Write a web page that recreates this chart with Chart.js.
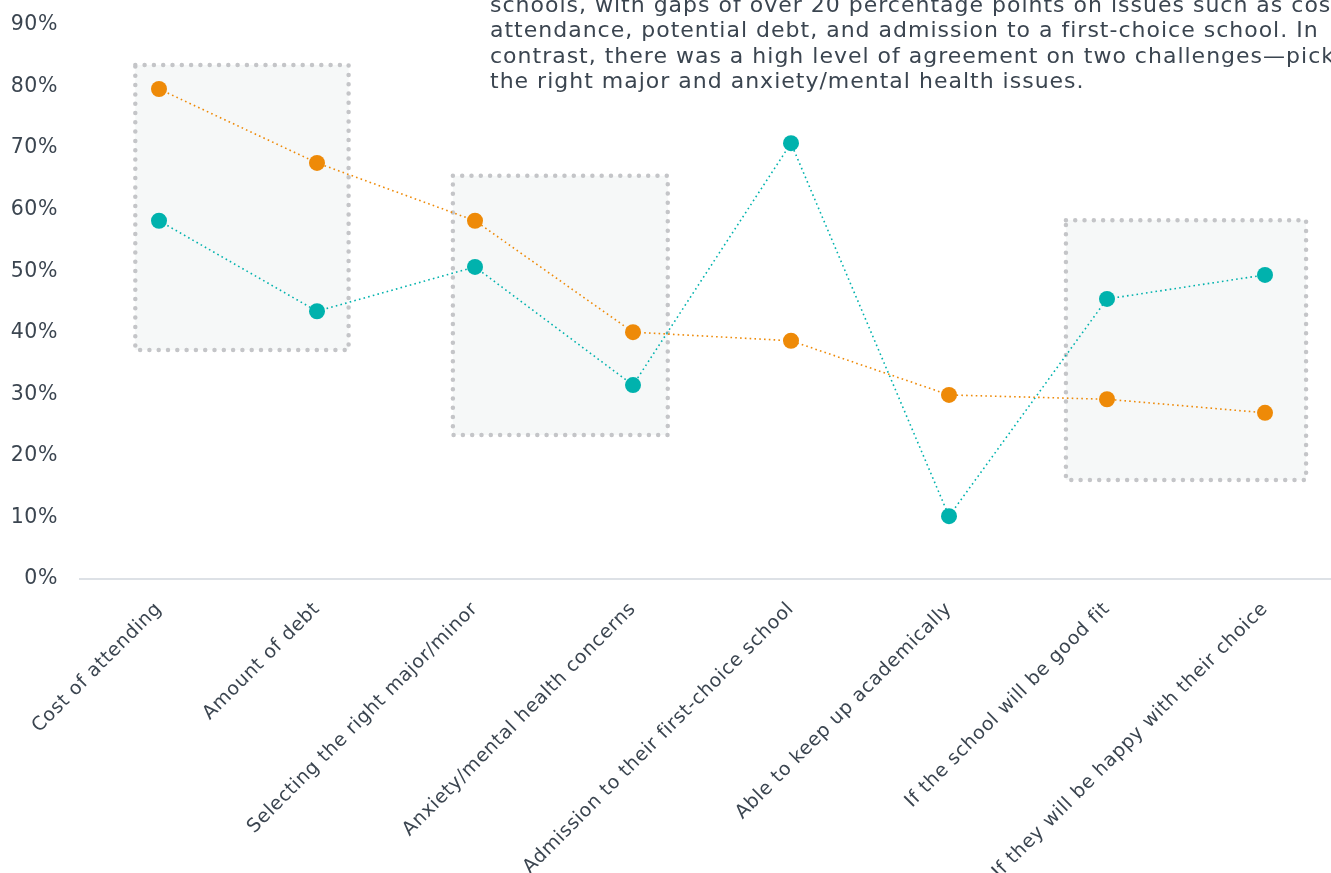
<!DOCTYPE html>
<html>
<head>
<meta charset="utf-8">
<script src="https://cdn.jsdelivr.net/npm/chart.js@4.4.1/dist/chart.umd.min.js"></script>
<style>
  html, body { margin: 0; padding: 0; background: #fff; overflow: hidden; }
  .wrap { position: relative; width: 1352px; height: 873px; }
</style>
</head>
<body>
<div class="wrap"><canvas id="myChart"></canvas></div>
<script>
// DADOS DO GRAFICO
const categories = [
  "Cost of attending",
  "Amount of debt",
  "Selecting the right major/minor",
  "Anxiety/mental health concerns",
  "Admission to their first-choice school",
  "Able to keep up academically",
  "If the school will be good fit",
  "If they will be happy with their choice",
];
const orangeValues = [79.6, 67.6, 58.2, 40.1, 38.7, 29.9, 29.2, 27.0];
const tealValues = [58.2, 43.5, 50.7, 31.5, 70.8, 10.2, 45.5, 49.4];
const yTicks = [0, 10, 20, 30, 40, 50, 60, 70, 80, 90];

// caixas de destaque (em unidades de categoria / percentagem)
const highlightBoxes = [
  { from: -0.15, to: 1.2, low: 37.2, high: 83.5 },
  { from: 1.86, to: 3.22, low: 23.4, high: 65.5 },
  { from: 5.74, to: 7.26, low: 16.1, high: 58.3 },
];

const noteLines = [
  "schools, with gaps of over 20 percentage points on issues such as cost of",
  "attendance, potential debt, and admission to a first-choice school. In",
  "contrast, there was a high level of agreement on two challenges\u2014picking",
  "the right major and anxiety/mental health issues.",
];

const FONT = "'DejaVu Sans', Verdana, sans-serif";
const TEXT_COLOR = "#3b4550";

// espaçamento entre letras (imitar Verdana)
const spacingPlugin = {
  id: "spacing",
  beforeLayout(chart) {
    chart.ctx.letterSpacing = "0.6px";
  },
  beforeDraw(chart) {
    chart.ctx.letterSpacing = "0.6px";
  },
};

// PLUGIN PARA AS CAIXAS PONTILHADAS
const boxPlugin = {
  id: "boxes",
  beforeDatasetsDraw(chart) {
    const { ctx, scales } = chart;
    const x = scales.x;
    const y = scales.y;
    const step = x.getPixelForValue(1) - x.getPixelForValue(0);
    highlightBoxes.forEach((b) => {
      const left = x.getPixelForValue(0) + b.from * step;
      const right = x.getPixelForValue(0) + b.to * step;
      const top = y.getPixelForValue(b.high);
      const bottom = y.getPixelForValue(b.low);
      ctx.save();
      ctx.fillStyle = "#f6f8f8";
      ctx.fillRect(left, top, right - left, bottom - top);
      ctx.strokeStyle = "#c4c5c8";
      ctx.lineWidth = 4.5;
      ctx.lineCap = "round";
      ctx.setLineDash([0, 9.3]);
      ctx.strokeRect(left, top, right - left, bottom - top);
      ctx.restore();
    });
  },
};

// PLUGIN PARA O TEXTO DE NOTA
const notePlugin = {
  id: "note",
  afterDraw(chart) {
    const ctx = chart.ctx;
    ctx.save();
    ctx.font = "22px " + FONT;
    ctx.letterSpacing = "1px";
    ctx.fillStyle = TEXT_COLOR;
    ctx.textBaseline = "alphabetic";
    noteLines.forEach((line, i) => {
      ctx.fillText(line, 490, 11.5 + i * 25.5);
    });
    ctx.restore();
  },
};

const ctx = document.getElementById("myChart");
const makeSet = (values, color) => ({
  data: values,
  borderColor: color,
  backgroundColor: color,
  pointBackgroundColor: color,
  pointBorderWidth: 0,
  pointRadius: 8,
  borderWidth: 1.6,
  borderDash: [1.6, 3.2],
  tension: 0,
});

new Chart(ctx, {
  type: "line",
  data: {
    labels: categories,
    datasets: [
      makeSet(orangeValues, "#ee8a08"),
      makeSet(tealValues, "#00b2ad"),
    ],
  },
  options: {
    responsive: true,
    maintainAspectRatio: false,
    animation: false,
    layout: { padding: { left: 10, top: 25, right: 6, bottom: 0 } },
    plugins: {
      legend: { display: false },
      tooltip: { enabled: false },
      title: { display: false },
    },
    scales: {
      x: {
        offset: true,
        grid: { display: false, drawTicks: false },
        border: { display: true, color: "#dde1e6", width: 2 },
        ticks: {
          color: TEXT_COLOR,
          font: { family: FONT, size: 19 },
          minRotation: 45,
          maxRotation: 45,
          padding: 19,
          autoSkip: false,
        },
        afterFit: (s) => {
          s.paddingLeft = 0;
          s.paddingRight = 0;
          s.height = 294;
        },
      },
      y: {
        min: yTicks[0],
        max: yTicks[yTicks.length - 1],
        afterBuildTicks: (axis) => {
          axis.ticks = yTicks.map((v) => ({ value: v }));
        },
        afterFit: (s) => {
          s.width = 70;
          s.paddingTop = 0;
          s.paddingBottom = 0;
        },
        grid: { display: false, drawTicks: false },
        border: { display: false },
        ticks: {
          color: TEXT_COLOR,
          font: { family: FONT, size: 20.5 },
          padding: 22,
          callback: (v) => v + "%",
        },
      },
    },
  },
  plugins: [spacingPlugin, boxPlugin, notePlugin],
});
</script>
</body>
</html>
